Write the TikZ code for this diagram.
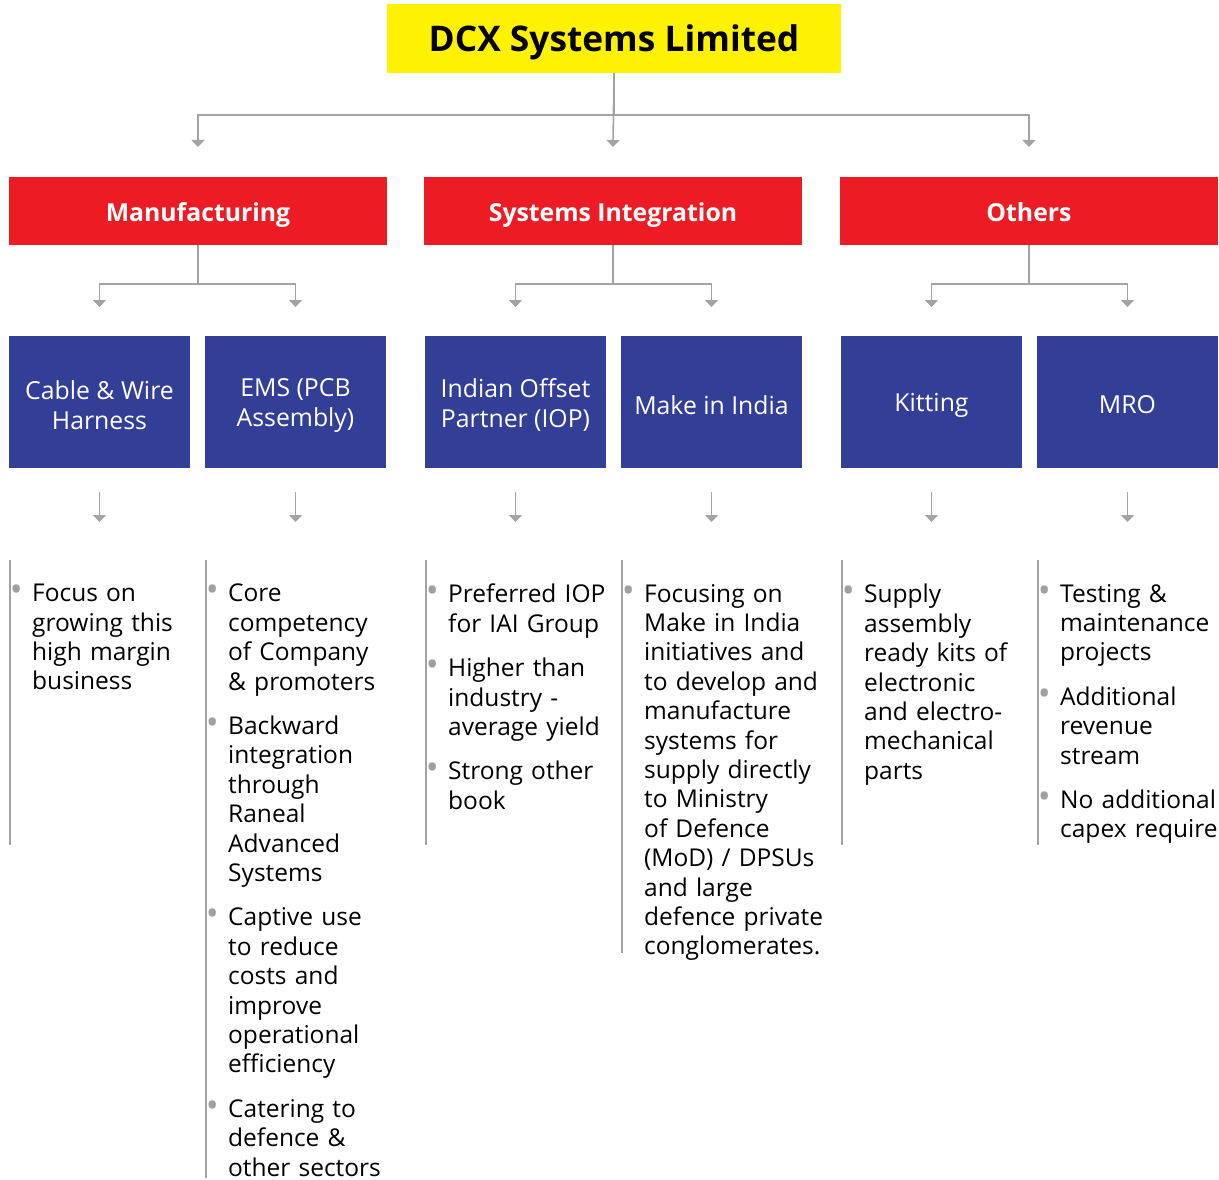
\documentclass[tikz,border=0pt]{standalone}
\usepackage{fontspec}
\setmainfont{Open Sans}
\usetikzlibrary{positioning,arrows.meta}
\definecolor{dcxyellow}{HTML}{FFF200}
\definecolor{dcxred}{HTML}{ED1C24}
\definecolor{dcxblue}{HTML}{333F97}
\definecolor{linegray}{HTML}{A3A3A3}
\definecolor{bulgray}{HTML}{A0A0A0}
\newcommand{\bul}{\leavevmode\llap{\textcolor{bulgray}{\scalebox{1.4}{•}}\hspace{9.5pt}}}

\begin{document}
\begin{tikzpicture}[x=1pt, y=1pt, >={Triangle[width=13pt,length=7pt]},
  company/.style={fill=dcxyellow, outer sep=0pt, minimum width=454pt, minimum height=69pt, text height=25.2pt, text depth=0pt, font=\fontsize{35.3}{42}\selectfont\bfseries},
  head/.style={fill=dcxred, text=white, outer sep=0pt, minimum width=378pt, minimum height=68pt, text height=20.7pt, text depth=0pt, font=\fontsize{24.8}{30}\selectfont\bfseries},
  seg/.style={fill=dcxblue, outer sep=0pt, minimum width=181pt, minimum height=132pt},
  segtext/.style={text=white, align=center, yshift=-3pt, font=\fontsize{24.8}{30}\selectfont},
  items/.style={anchor=north west, inner sep=0pt, text width=200pt, align=left, font=\fontsize{24.5}{29.4}\selectfont},
  link/.style={draw=linegray, line width=1.6pt, ->},
  rule/.style={draw=linegray, line width=1.2pt}]
  \useasboundingbox (0,0) rectangle (1219,-1180);

  \node[company] (dcx) at (614,-38.5) {DCX Systems Limited};

  \node[head] (man) at (198,-211) {Manufacturing};
  \node[head] (sys) [right=37pt of man] {Systems Integration};
  \node[head] (oth) [right=38pt of sys] {Others};

  \node[seg, label={[segtext]center:Cable \& Wire\\Harness}] (cab) at (99.5,-402) {};
  \node[seg, label={[segtext]center:EMS (PCB\\Assembly)}] (ems) [right=15pt of cab] {};
  \node[seg, label={[segtext]center:Indian Offset\\Partner (IOP)}] (iop) [right=39pt of ems] {};
  \node[seg, label={[segtext]center:Make in India}] (mii) [right=15pt of iop] {};
  \node[seg, label={[segtext]center:Kitting}] (kit) [right=39pt of mii] {};
  \node[seg, label={[segtext]center:MRO}] (mro) [right=15pt of kit] {};

  % company to segments
  \draw[link] (dcx.south) -- ++(0,-42) -| ([yshift=30]man.north);
  \draw[link] (dcx.south) -- ++(0,-42) -| ([yshift=30]oth.north);
  \draw[link] (dcx.south) -- ([yshift=30]sys.north);

  % segments to businesses
  \draw[link] (man.south) -- ++(0,-39) -| ([yshift=29]cab.north);
  \draw[link] (man.south) -- ++(0,-39) -| ([yshift=29]ems.north);
  \draw[link] (sys.south) -- ++(0,-39) -| ([yshift=29]iop.north);
  \draw[link] (sys.south) -- ++(0,-39) -| ([yshift=29]mii.north);
  \draw[link] (oth.south) -- ++(0,-39) -| ([yshift=29]kit.north);
  \draw[link] (oth.south) -- ++(0,-39) -| ([yshift=29]mro.north);

  \foreach \b in {cab,ems,iop,mii,kit,mro}
    \draw[link] ([yshift=-24]\b.south) -- ++(0,-30);

  % bullet lists
  \node[items] (l1) at (32,-584) {\bul Focus on\\growing this\\high margin\\business};
  \node[items] (l2) at (228,-584) {\bul Core\\competency\\of Company\\\& promoters\\[15pt]%
    \bul Backward\\integration\\through\\Raneal\\Advanced\\Systems\\[15pt]%
    \bul Captive use\\to reduce\\costs and\\improve\\operational\\efficiency\\[15pt]%
    \bul Catering to\\defence \&\\other sectors};
  \node[items] (l3) at (448,-584) {\bul Preferred IOP\\for IAI Group\\[15pt]%
    \bul Higher than\\industry -\\average yield\\[15pt]%
    \bul Strong other\\book};
  \node[items] (l4) at (644,-584) {\bul Focusing on\\Make in India\\initiatives and\\to develop and\\manufacture\\systems for\\supply directly\\to Ministry\\of Defence\\(MoD) / DPSUs\\and large\\defence private\\conglomerates.};
  \node[items] (l5) at (864,-584) {\bul Supply\\assembly\\ready kits of\\electronic\\and electro-\\mechanical\\parts};
  \node[items] (l6) at (1060,-584) {\bul Testing \&\\maintenance\\projects\\[15pt]%
    \bul Additional\\revenue\\stream\\[15pt]%
    \bul No additional\\capex require};

  \draw[rule] (10,-560) -- (10,-845);
  \draw[rule] (206,-560) -- (206,-1178);
  \draw[rule] (426,-560) -- (426,-845);
  \draw[rule] (622,-560) -- (622,-953);
  \draw[rule] (842,-560) -- (842,-845);
  \draw[rule] (1038,-560) -- (1038,-845);
\end{tikzpicture}
\end{document}
